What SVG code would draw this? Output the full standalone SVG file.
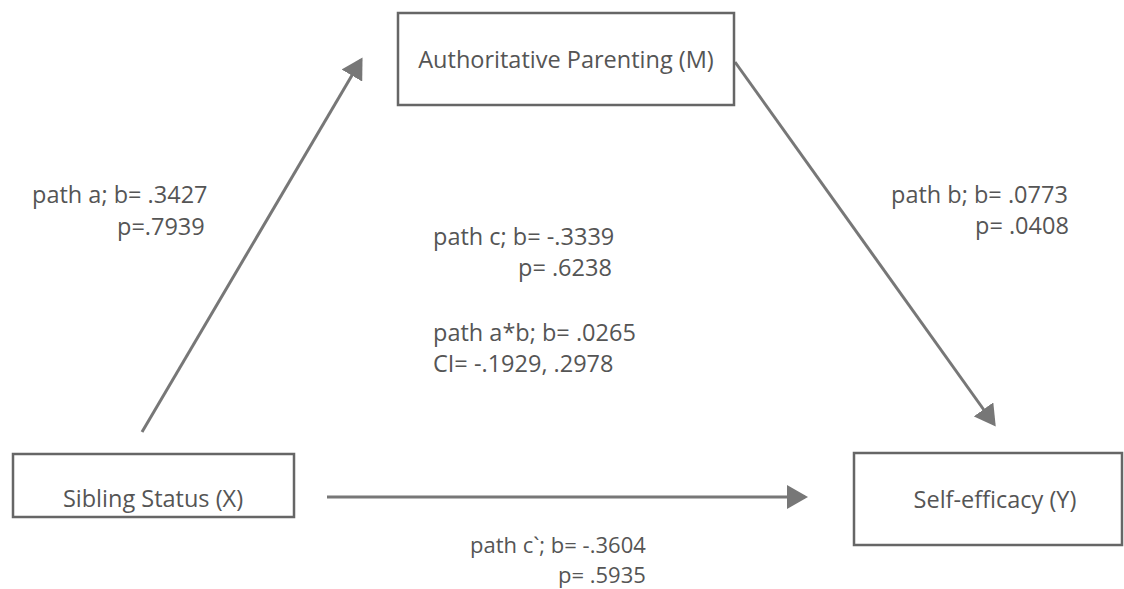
<svg xmlns="http://www.w3.org/2000/svg" width="1124" height="589" viewBox="0 0 1124 589">
<style>
.box{fill:#fff;stroke:#666;stroke-width:2.5}
.t{font-family:"Open Sans","Noto Sans",sans-serif;font-size:23.5px;fill:#555}
.s{font-size:22px}
.c{stroke:#777;stroke-width:3;fill:none;marker-end:url(#ah)}
</style>
<defs>
<marker id="ah" markerWidth="8" markerHeight="8" refX="6" refY="4" orient="auto" markerUnits="strokeWidth">
<path d="M0,0 L7,4 L0,8 Z" fill="#777"/>
</marker>
</defs>
<rect width="1124" height="589" fill="#fff"/>
<g id="connectors">
<line class="c" x1="142" y1="432" x2="361" y2="60"/>
<line class="c" x1="735" y1="62" x2="994" y2="424"/>
<line class="c" x1="327" y1="497" x2="805" y2="497"/>
</g>
<g id="node-m">
<rect class="box" x="398" y="13" width="336" height="92"/>
<text class="t" x="566" y="68" text-anchor="middle">Authoritative Parenting (M)</text>
</g>
<g id="node-x">
<rect class="box" x="13" y="454" width="281" height="63"/>
<text class="t" x="153" y="507" text-anchor="middle">Sibling Status (X)</text>
</g>
<g id="node-y">
<rect class="box" x="854" y="453" width="268" height="92"/>
<text class="t" x="995" y="508" text-anchor="middle">Self-efficacy (Y)</text>
</g>
<g id="labels">
<text class="t" x="32" y="203">path a; b= .3427</text>
<text class="t" x="117" y="235">p=.7939</text>
<text class="t" x="433" y="245">path c; b= -.3339</text>
<text class="t" x="518" y="276">p= .6238</text>
<text class="t" x="433" y="341">path a*b; b= .0265</text>
<text class="t" x="433" y="372">CI= -.1929, .2978</text>
<text class="t" x="891" y="203">path b; b= .0773</text>
<text class="t" x="975" y="234">p= .0408</text>
<text class="t s" x="470" y="553">path c`; b= -.3604</text>
<text class="t s" x="558" y="583">p= .5935</text>
</g>
</svg>
